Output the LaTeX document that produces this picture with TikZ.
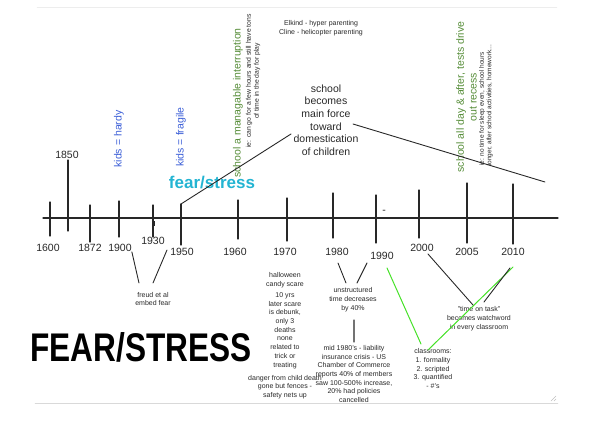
\documentclass[tikz,border=0pt]{standalone}
\usepackage{fontspec}
\setmainfont{Liberation Sans}
\usepackage{tikz}
\definecolor{inkgrey}{RGB}{40,40,40}
\definecolor{kidsblue}{RGB}{60,95,215}
\definecolor{schoolgreen}{RGB}{85,140,55}
\definecolor{fearcyan}{RGB}{35,180,210}
\definecolor{linegreen}{RGB}{70,225,40}
\newcommand{\tinynote}{\fontsize{7}{8.7}\selectfont}
\newcommand{\yearfont}{\fontsize{10.5}{12}\selectfont}

\begin{document}
\begin{tikzpicture}[x=1pt, y=-1pt, inner sep=0pt, line cap=round]
    \useasboundingbox (0,0) rectangle (590,428);

    % Faint page frame
    \draw[black!7] (37,7) -- (557,7);
    \draw[black!15] (35,403) -- (558,403);
    \draw[black!25] (551,401) -- (556,396) (554,401) -- (556,399);

    % Draw timeline
    \draw[inkgrey, line width=1.2pt] (43,218) -- (558,218);
    \foreach \x/\t/\b in {50/202/236, 68/160/231, 90/205/242, 119/201/237,
                          153/205/237, 181/204/245, 238/200/239, 287/198/241,
                          333/193/238, 376/195/243, 419/190/238, 467/183/243, 513/184/244} {
        \draw[inkgrey, line width=1.1pt] (\x,\t) -- (\x,\b);
    }
    \fill[inkgrey] (152,221) rectangle (154.5,226);
    \node[text=inkgrey, font=\yearfont] (dash) at (384,212) {-};

    % Year labels
    \foreach \yr/\x/\y in {1600/48/248, 1850/67/155, 1872/90/248, 1900/120/248,
                           1930/153/241, 1950/182/252, 1960/235/252, 1970/285/252,
                           1980/337/252, 1990/382/256, 2000/422/248, 2005/467/252, 2010/513/252} {
        \node[text=inkgrey, font=\yearfont] (y\yr) at (\x,\y) {\yr};
    }

    % Top notes
    \node[text=inkgrey, font=\tinynote, align=center] (elkind) at (321,28.5)
        {Elkind - hyper parenting\\Cline - helicopter parenting};
    \node[text=kidsblue, font=\yearfont, rotate=90] (hardy) at (119,139) {kids = hardy};
    \node[text=kidsblue, font=\yearfont, rotate=90] (fragile) at (181,137) {kids = fragile};
    \node[text=fearcyan, font=\fontsize{17}{20}\selectfont\bfseries] (fear) at (212,183) {fear/stress};
    \node[text=schoolgreen, font=\yearfont, rotate=90] (interrupt) at (238,103)
        {school a managable interruption};
    \node[text=inkgrey, font=\fontsize{6.8}{8}\selectfont, rotate=90, align=center] (fewhours) at (253,81)
        {ie: can go for a few hours and still have tons\\of time in the day for play};
    \node[text=schoolgreen, font=\fontsize{10.5}{12.8}\selectfont, rotate=90, align=center] (allday) at (466.5,97)
        {school all day \& after, tests drive\\out recess};
    \node[text=inkgrey, font=\fontsize{6.5}{7.6}\selectfont, rotate=90, align=left, anchor=west] (notime) at (486,166)
        {ie: no time for sleep even, school hours\\longer, after school activities, homework...};

    % School becomes main force
    \node[text=inkgrey, font=\fontsize{10.5}{12.7}\selectfont, align=center] (school) at (326,120)
        {school\\becomes\\main force\\toward\\domestication\\of children};
    \coordinate (tick1950) at (181,204);
    \coordinate (schoolL) at (291,134);
    \coordinate (schoolR) at (353,124);
    \coordinate (lineEnd) at (545,182);
    \draw[inkgrey, line width=0.9pt] (tick1950) -- (schoolL);
    \draw[inkgrey, line width=0.9pt] (schoolR) -- (lineEnd);

    % Bottom notes
    \node[text=inkgrey, font=\tinynote, align=center] (freud) at (153,299) {freud et al\\embed fear};
    \node[text=inkgrey, font=\tinynote, align=center] (candy) at (285,280) {halloween\\candy scare};
    \node[text=inkgrey, font=\tinynote, align=center] (debunk) at (285,330.5)
        {10 yrs\\later scare\\is debunk,\\only 3\\deaths\\none\\related to\\trick or\\treating};
    \node[text=inkgrey, font=\tinynote, align=center] (danger) at (285,387)
        {danger from child death\\gone but fences -\\safety nets up};
    \node[text=inkgrey, font=\tinynote, align=center] (unstruct) at (353,299.5)
        {unstructured\\time decreases\\by 40\%};
    \node[text=inkgrey, font=\tinynote, align=center] (liability) at (354,374)
        {mid 1980's - liability\\insurance crisis - US\\Chamber of Commerce\\reports 40\% of members\\saw 100-500\% increase,\\20\% had policies\\cancelled};
    \node[text=inkgrey, font=\tinynote, align=center] (classrooms) at (433,368.5)
        {classrooms:\\1. formality\\2. scripted\\3. quantified\\- \#'s};
    \node[text=inkgrey, font=\tinynote, align=center] (ontask) at (479,318.5)
        {"time on task"\\becomes watchword\\in every classroom};

    % Connectors
    \coordinate (freudL) at (139,283);
    \coordinate (freudR) at (153,283);
    \draw[inkgrey, line width=0.9pt] (y1900.south east) -- (freudL);
    \draw[inkgrey, line width=0.9pt] (167,250) -- (freudR);
    \draw[inkgrey, line width=0.9pt] (338,263) -- (346,283);
    \draw[inkgrey, line width=0.9pt] (367,263) -- (357,283);
    \draw[black!55, line width=1.3pt] (354,320) -- (354,342);
    \draw[linegreen, line width=1pt] (387,268) -- (421,344);
    \draw[linegreen, line width=1pt] (513,267) -- (428,350);
    \draw[inkgrey, line width=0.9pt] (428,254) -- (473,305);
    \draw[inkgrey, line width=0.9pt] (510,268) -- (484,302);

    % Big title
    \node[text=black, font=\fontsize{40}{40}\selectfont\bfseries] (title) at (141,347)
        {\scalebox{0.79}[1]{FEAR/STRESS}};
\end{tikzpicture}
\end{document}
